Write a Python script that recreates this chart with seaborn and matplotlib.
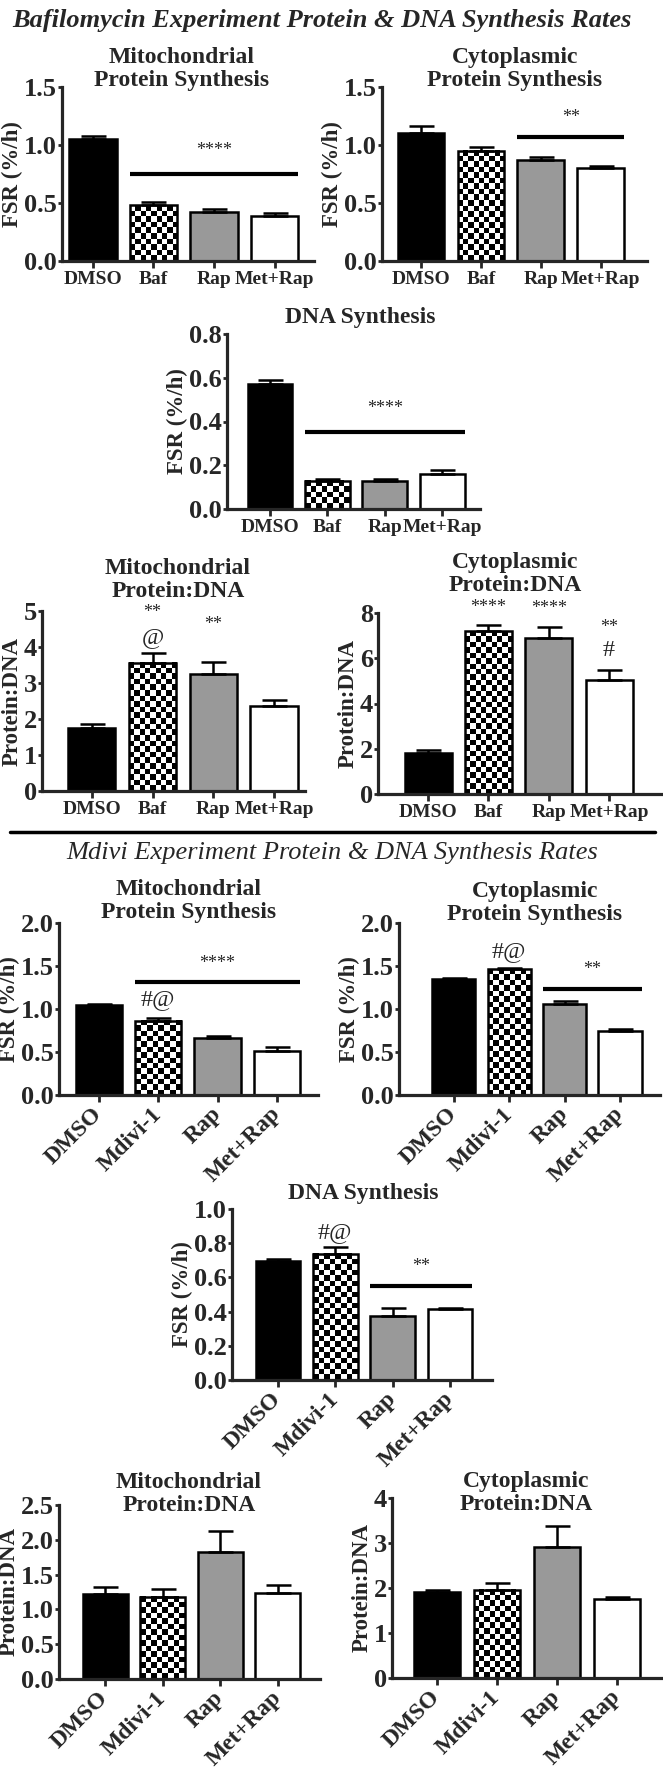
import numpy as np
import matplotlib
matplotlib.use("Agg")
import matplotlib.pyplot as plt
import seaborn as sns
from matplotlib.lines import Line2D

# ---- data (means and upper SEM) ----
baf_groups = ["DMSO", "Baf", "Rap", "Met+Rap"]
mdivi_groups = ["DMSO", "Mdivi-1", "Rap", "Met+Rap"]

baf_mito_fsr = [1.05, 0.48, 0.42, 0.39]
baf_mito_fsr_err = [0.03, 0.03, 0.03, 0.025]
baf_cyto_fsr = [1.10, 0.95, 0.87, 0.80]
baf_cyto_fsr_err = [0.06, 0.03, 0.03, 0.02]
baf_dna_fsr = [0.57, 0.13, 0.127, 0.16]
baf_dna_fsr_err = [0.02, 0.005, 0.008, 0.02]
baf_mito_ratio = [1.74, 3.56, 3.24, 2.36]
baf_mito_ratio_err = [0.11, 0.27, 0.34, 0.16]
baf_cyto_ratio = [1.82, 7.19, 6.89, 5.02]
baf_cyto_ratio_err = [0.13, 0.29, 0.49, 0.44]

mdivi_mito_fsr = [1.05, 0.866, 0.66, 0.51]
mdivi_mito_fsr_err = [0.01, 0.025, 0.03, 0.05]
mdivi_cyto_fsr = [1.35, 1.46, 1.06, 0.75]
mdivi_cyto_fsr_err = [0.01, 0.02, 0.03, 0.02]
mdivi_dna_fsr = [0.693, 0.738, 0.375, 0.417]
mdivi_dna_fsr_err = [0.016, 0.042, 0.048, 0.006]
mdivi_mito_ratio = [1.22, 1.18, 1.83, 1.23]
mdivi_mito_ratio_err = [0.10, 0.11, 0.30, 0.12]
mdivi_cyto_ratio = [1.92, 1.96, 2.91, 1.76]
mdivi_cyto_ratio_err = [0.04, 0.15, 0.47, 0.05]

bar_colors = ["black", "white", "#999999", "white"]

W, H = 663, 1768
sns.set_style("ticks")
plt.rcParams["font.family"] = ["Liberation Serif", "DejaVu Serif"]
plt.rcParams["font.weight"] = "bold"

fig = plt.figure(figsize=(W / 100, H / 100), dpi=100)

# panel: data, axis, labels, significance marks, layout in pixels
panels = [
    dict(g=baf_groups, v=baf_mito_fsr, e=baf_mito_fsr_err, ymax=1.5,
         yt=[0, 0.5, 1.0, 1.5], fmt="{:.1f}", yl="FSR (%/h)",
         title="Mitochondrial\nProtein Synthesis", rot=False,
         sig=(1, 3, 0.75, "****", 0.95), marks=[],
         box=(62, 314, 87, 261), xl=(-0.51, 3.65), tpos=(182, 69)),
    dict(g=baf_groups, v=baf_cyto_fsr, e=baf_cyto_fsr_err, ymax=1.5,
         yt=[0, 0.5, 1.0, 1.5], fmt="{:.1f}", yl="FSR (%/h)",
         title="Cytoplasmic\nProtein Synthesis", rot=False,
         sig=(2, 3, 1.07, "**", 1.24), marks=[],
         box=(382, 647, 87, 261), xl=(-0.65, 3.77), tpos=(515, 69)),
    dict(g=baf_groups, v=baf_dna_fsr, e=baf_dna_fsr_err, ymax=0.8,
         yt=[0, 0.2, 0.4, 0.6, 0.8], fmt="{:.1f}", yl="FSR (%/h)",
         title="DNA Synthesis", rot=False,
         sig=(1, 3, 0.35, "****", 0.46), marks=[],
         box=(227, 480, 334, 509), xl=(-0.75, 3.66), tpos=(360, 318)),
    dict(g=baf_groups, v=baf_mito_ratio, e=baf_mito_ratio_err, ymax=5,
         yt=[0, 1, 2, 3, 4, 5], fmt="{:.0f}", yl="Protein:DNA",
         title="Mitochondrial\nProtein:DNA", rot=False, sig=None,
         marks=[(1, 4.95, "**"), (1, 4.26, "@"), (2, 4.63, "**")],
         box=(42, 305, 611, 791), xl=(-0.82, 3.51), tpos=(178, 580)),
    dict(g=baf_groups, v=baf_cyto_ratio, e=baf_cyto_ratio_err, ymax=8,
         yt=[0, 2, 4, 6, 8], fmt="{:.0f}", yl="Protein:DNA",
         title="Cytoplasmic\nProtein:DNA", rot=False, sig=None,
         marks=[(1, 8.25, "****"), (2, 8.2, "****"), (3, 7.34, "**"), (3, 6.35, "#")],
         box=(378, 661, 613, 794), xl=(-0.83, 3.86), tpos=(515, 574)),
    dict(g=mdivi_groups, v=mdivi_mito_fsr, e=mdivi_mito_fsr_err, ymax=2.0,
         yt=[0, 0.5, 1.0, 1.5, 2.0], fmt="{:.1f}", yl="FSR (%/h)",
         title="Mitochondrial\nProtein Synthesis", rot=True,
         sig=(1, 3, 1.31, "****", 1.53), marks=[(1, 1.11, "#@")],
         box=(59, 318, 923, 1095), xl=(-0.67, 3.69), tpos=(189, 901)),
    dict(g=mdivi_groups, v=mdivi_cyto_fsr, e=mdivi_cyto_fsr_err, ymax=2.0,
         yt=[0, 0.5, 1.0, 1.5, 2.0], fmt="{:.1f}", yl="FSR (%/h)",
         title="Cytoplasmic\nProtein Synthesis", rot=True,
         sig=(2, 3, 1.23, "**", 1.46), marks=[(1, 1.67, "#@")],
         box=(399, 660, 923, 1095), xl=(-0.99, 3.72), tpos=(535, 903)),
    dict(g=mdivi_groups, v=mdivi_dna_fsr, e=mdivi_dna_fsr_err, ymax=1.0,
         yt=[0, 0.2, 0.4, 0.6, 0.8, 1.0], fmt="{:.1f}", yl="FSR (%/h)",
         title="DNA Synthesis", rot=True,
         sig=(2, 3, 0.55, "**", 0.666), marks=[(1, 0.864, "#@")],
         box=(232, 492, 1209, 1380), xl=(-0.80, 3.73), tpos=(363, 1193)),
    dict(g=mdivi_groups, v=mdivi_mito_ratio, e=mdivi_mito_ratio_err, ymax=2.5,
         yt=[0, 0.5, 1.0, 1.5, 2.0, 2.5], fmt="{:.1f}", yl="Protein:DNA",
         title="Mitochondrial\nProtein:DNA", rot=True, sig=None, marks=[],
         box=(59, 320, 1505, 1679), xl=(-0.80, 3.73), tpos=(189, 1494)),
    dict(g=mdivi_groups, v=mdivi_cyto_ratio, e=mdivi_cyto_ratio_err, ymax=4,
         yt=[0, 1, 2, 3, 4], fmt="{:.0f}", yl="Protein:DNA",
         title="Cytoplasmic\nProtein:DNA", rot=True, sig=None, marks=[],
         box=(392, 662, 1498, 1678), xl=(-0.75, 3.75), tpos=(526, 1493)),
]


def checker(ax, patch, cell=5.5):
    x0, w, h = patch.get_x(), patch.get_width(), patch.get_height()
    p0 = ax.transData.transform((x0, 0))
    p1 = ax.transData.transform((x0 + w, h))
    nx = max(1, int(round(abs(p1[0] - p0[0]) / cell)))
    ny = max(1, int(round(abs(p1[1] - p0[1]) / cell)))
    grid = np.indices((ny, nx)).sum(axis=0) % 2
    patch.set_facecolor("none")
    ax.imshow(grid, cmap="gray", extent=[x0, x0 + w, 0, h], origin="lower",
              aspect="auto", interpolation="nearest", zorder=0.9)


bw = 0.78
for p in panels:
    l, r, t, b = p["box"]
    ax = fig.add_axes([l / W, 1 - b / H, (r - l) / W, (b - t) / H])
    sns.barplot(x=p["g"], y=p["v"], hue=p["g"], palette=bar_colors, legend=False,
                edgecolor="black", linewidth=1.8, width=bw, saturation=1, ax=ax)
    ax.errorbar(range(len(p["v"])), p["v"], yerr=[np.zeros(len(p["e"])), p["e"]],
                fmt="none", ecolor="black", elinewidth=1.8, capsize=9, capthick=1.8)
    ax.set_xlim(*p["xl"])
    ax.set_ylim(0, p["ymax"])
    checker(ax, ax.patches[1])
    ax.set_xlim(*p["xl"])
    ax.set_ylim(0, p["ymax"])

    sns.despine(ax=ax)
    for s in ["left", "bottom"]:
        ax.spines[s].set_linewidth(2.3)
    ax.tick_params(axis="y", width=2, length=3, pad=0.5)
    ax.set_yticks(p["yt"])
    ax.set_yticklabels([p["fmt"].format(y) for y in p["yt"]], fontsize=19, fontweight="bold")
    ax.set_xticks(range(4))
    if p["rot"]:
        ax.tick_params(axis="x", width=2, length=5, pad=6.5)
        ax.set_xticklabels(p["g"], fontsize=17, fontweight="bold", rotation=45,
                           ha="right", va="center", rotation_mode="anchor")
    else:
        ax.tick_params(axis="x", width=2, length=5, pad=2)
        ax.set_xticklabels(p["g"], fontsize=14, fontweight="bold")
    ax.set_xlabel("")
    ax.set_ylabel(p["yl"], fontsize=16.5, fontweight="bold", labelpad=1)

    if p["sig"]:
        a, c, y, txt, ty = p["sig"]
        ax.hlines(y, a - bw / 2, c + bw / 2, color="black", lw=3)
        ax.text((a + c) / 2, ty, txt, ha="center", va="center", fontsize=13,
                fontweight="normal")
    for x, y, txt in p["marks"]:
        size = 13 if "*" in txt else 17.5
        ax.text(x, y, txt, ha="center", va="center", fontsize=size, fontweight="normal")

    fig.text(p["tpos"][0] / W, 1 - p["tpos"][1] / H, p["title"], ha="center",
             va="center", fontsize=17, fontweight="bold", linespacing=1.1)

fig.text(322 / W, 1 - 20 / H, "Bafilomycin Experiment Protein & DNA Synthesis Rates",
         ha="center", va="center", fontsize=19, fontweight="bold", style="italic")
fig.text(332 / W, 1 - 853 / H, "Mdivi Experiment Protein & DNA Synthesis Rates",
         ha="center", va="center", fontsize=19, fontweight="normal", style="italic")
fig.add_artist(Line2D([10 / W, 655 / W], [1 - 832 / H, 1 - 832 / H], lw=2.5, color="black"))

fig.savefig("out.png", dpi=100)
